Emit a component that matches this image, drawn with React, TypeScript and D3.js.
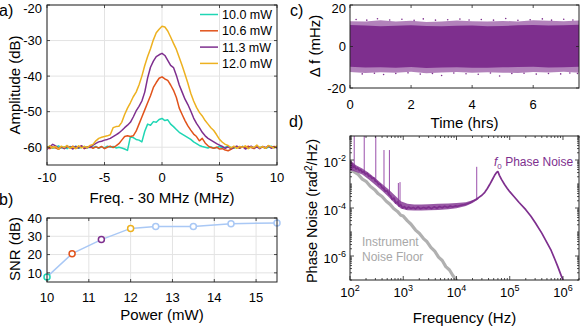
import React from 'react';
import * as d3 from 'd3';

const FONT = '"Liberation Sans", Arial, Helvetica, sans-serif';

// a) beat-note spectra, dB, sampled every 0.25 MHz from -10 to 10 MHz
const offsetMHz = d3.range(-10, 10.001, 0.25);
const amp10_0 = [
  -60.1, -59.7, -60.3, -60.0, -59.6, -60.2, -59.9, -60.4,
  -59.8, -60.1, -59.7, -60.3, -60.0, -59.8, -60.2, -59.9,
  -60.1, -59.8, -60.3, -59.9, -60.2, -59.7, -60.0, -59.8,
  -60.2, -60.0, -60.2, -60.5, -60.9, -57.1, -57.3, -57.8,
  -58.0, -58.5, -55.5, -53.5, -53.8, -52.8, -53.0, -52.2,
  -51.9, -52.5, -52.3, -53.5, -54.2, -55.0, -55.8, -56.3,
  -56.8, -57.3, -57.8, -58.5, -59.0, -59.5, -59.8, -60.0,
  -60.2, -59.9, -60.3, -60.1, -59.8, -60.2, -60.0, -59.7,
  -60.1, -60.3, -59.9, -60.2, -59.8, -60.0, -60.3, -59.9,
  -60.2, -59.8, -60.1, -59.9, -60.3, -60.0, -59.7, -60.1,
  -59.9,
];
const amp10_6 = [
  -59.8, -60.4, -59.9, -60.2, -60.6, -59.9, -60.3, -59.8,
  -60.2, -59.7, -60.3, -60.0, -59.6, -60.4, -60.1, -59.8,
  -60.3, -59.9, -60.2, -59.8, -60.4, -60.0, -59.7, -60.1,
  -59.6, -59.0, -58.0, -57.0, -56.8, -57.0, -56.8, -55.5,
  -53.5, -51.5, -49.5, -47.5, -45.5, -43.2, -41.8, -40.6,
  -40.2, -40.8, -41.2, -42.5, -44.0, -46.0, -49.0, -50.8,
  -52.5, -54.0, -55.2, -56.3, -57.0, -58.2, -57.5, -58.8,
  -59.6, -60.1, -60.3, -60.0, -60.5, -60.4, -60.8, -61.0,
  -60.6, -60.1, -59.8, -60.3, -59.9, -60.2, -59.7, -60.1,
  -60.4, -59.8, -60.2, -59.9, -60.3, -59.7, -60.1, -59.8,
  -60.0,
];
const amp11_3 = [
  -60.6, -59.8, -59.2, -59.6, -60.3, -59.9, -60.4, -59.7,
  -60.0, -60.5, -59.8, -60.2, -59.6, -60.3, -59.9, -60.1,
  -59.4, -58.9, -58.5, -58.3, -58.0, -57.8, -57.5, -57.0,
  -56.5, -56.0, -55.3, -54.5, -53.8, -53.0, -51.5, -49.8,
  -48.5, -47.0, -44.5, -40.5, -37.5, -35.8, -34.5, -34.0,
  -33.6, -34.2, -35.6, -37.0, -37.6, -39.8, -42.5, -44.5,
  -46.5, -48.0, -49.8, -51.8, -53.3, -54.5, -55.8, -56.8,
  -57.5, -58.0, -58.5, -59.0, -59.4, -59.8, -60.3, -59.9,
  -60.4, -60.0, -59.7, -60.2, -59.8, -60.5, -60.1, -59.7,
  -60.2, -59.9, -60.4, -59.8, -60.1, -59.6, -60.3, -59.9,
  -60.2,
];
const amp12_0 = [
  -60.3, -59.6, -60.2, -59.8, -60.5, -59.7, -60.1, -59.5,
  -60.3, -59.9, -60.4, -59.6, -60.2, -59.8, -60.1, -59.5,
  -59.2, -58.2, -57.5, -57.2, -57.0, -56.8, -56.5, -54.5,
  -54.2, -54.1, -53.0, -50.8, -49.0, -47.5, -45.8, -44.5,
  -42.5, -40.0, -37.0, -34.5, -32.3, -29.8, -27.8, -26.8,
  -26.0, -26.2, -27.3, -29.0, -30.8, -32.5, -34.8, -37.0,
  -39.5, -42.0, -44.8, -47.0, -48.8, -50.2, -51.2, -52.5,
  -53.5, -54.5, -55.3, -56.5, -57.8, -58.6, -59.2, -59.5,
  -60.2, -59.7, -60.3, -59.8, -60.0, -59.6, -60.4, -59.9,
  -60.1, -59.4, -60.2, -59.8, -60.3, -59.5, -59.9, -60.2,
  -59.6,
];
const spectra = [amp10_0, amp10_6, amp11_3, amp12_0];
const spectraLabels = ['10.0 mW', '10.6 mW', '11.3 mW', '12.0 mW'];
const spectraColors = ['#1fd6b4', '#e1531b', '#7e2f8e', '#edb120'];
const aXTicks = [-10, -5, 0, 5, 10];
const aYTicks = [-60, -50, -40, -30, -20];

// b) SNR vs pump power
const powerMW = [10, 10.6, 11.3, 12, 12.6, 13.5, 14.4, 15.5];
const snrDB = [7.8, 20.5, 28.2, 34.3, 35.3, 35.3, 36.9, 37.3];
const snrLine = '#a9c8f5';
const snrMarker = ['#1fd6b4', '#e1531b', '#7e2f8e', '#edb120', snrLine, snrLine, snrLine, snrLine];
const bXTicks = [10, 11, 12, 13, 14, 15];
const bYTicks = [10, 20, 30, 40];

// c) frequency deviation over time: dense band, ragged edges and stray points (mHz)
const cTime = [0, 0.5, 1, 1.5, 2, 2.5, 3, 3.5, 4, 4.5, 5, 5.5, 6, 6.5, 7, 7.5];
const cCoreHi = [10.4, 10.1, 9.8, 10.0, 10.2, 9.9, 9.7, 10.0, 10.1, 9.8, 9.9, 10.2, 10.4, 10.1, 10.3, 10.5];
const cCoreLo = [-9.8, -10.1, -10.0, -10.2, -9.9, -10.4, -10.1, -10.0, -10.2, -10.3, -10.0, -9.9, -9.7, -10.1, -10.0, -9.8];
const cEdgeHi = [12.2, 12.0, 12.6, 12.1, 12.4, 11.8, 12.0, 12.5, 12.2, 12.0, 12.3, 12.1, 12.6, 12.4, 12.2, 12.5];
const cEdgeLo = [-12.3, -12.8, -12.4, -12.6, -12.2, -12.9, -12.5, -12.3, -12.7, -12.4, -12.6, -12.8, -12.3, -12.5, -12.2, -12.6];
const cDotT = [0.2, 0.55, 0.9, 1.3, 1.7, 2.1, 2.4, 2.8, 3.2, 3.6, 3.9, 4.3, 4.7, 5.1, 5.5, 5.9, 6.3, 6.6, 7.0, 7.3,
  0.4, 0.8, 1.1, 1.5, 1.9, 2.3, 2.7, 3.0, 3.4, 3.8, 4.2, 4.6, 4.9, 5.3, 5.7, 6.1, 6.5, 6.9, 7.2, 7.45];
const cDotV = [13.0, 12.7, 13.4, 12.8, 13.1, 12.6, 13.3, 12.7, 12.9, 13.2, 12.8, 13.0, 12.7, 13.5, 12.6, 12.9, 13.3, 12.7, 13.1, 12.8,
  -13.2, -12.9, -13.5, -13.0, -12.7, -13.3, -13.0, -14.0, -12.8, -13.1, -13.4, -12.8, -14.2, -13.0, -12.9, -13.3, -13.0, -13.2, -12.8, -13.0];
const cXTicks = [0, 2, 4, 6];
const cYTicks = [-20, 0, 20];

// d) phase noise spectra (rad^2/Hz)
const pnFreq = [100, 105, 110, 115, 122, 130, 140, 150, 160, 170, 180, 195, 210, 225, 240, 260, 280, 300, 320, 345,
  370, 400, 430, 460, 500, 540, 580, 620, 670, 720, 780, 840, 900, 970, 1050, 1150, 1250, 1400, 1550, 1700,
  1900, 2100, 2400, 2700, 3000, 3400, 3800, 4300, 4800, 5400, 6000, 6800, 7600, 8500, 9500, 10500, 12000, 14000, 16000, 18000,
  20000, 23000, 26000, 30000, 34000, 38000, 42000, 47000, 52000, 57000, 60000, 64000, 70000, 80000, 90000, 1e5, 1.2e5, 1.5e5, 2e5, 2.5e5,
  3e5, 4e5, 5e5, 6e5, 7e5, 8e5, 9e5, 1e6, 1.05e6];
const pnValue = [9e-3, 4e-3, 7e-3, 5e-3, 5.5e-3, 4.2e-3, 4.6e-3, 3.6e-3, 3.9e-3, 3.1e-3, 3.3e-3, 2.6e-3, 2.8e-3, 2.1e-3, 2.2e-3, 1.7e-3, 1.8e-3, 1.3e-3, 1.25e-3, 9.5e-4,
  1.0e-3, 7.0e-4, 6.5e-4, 5.0e-4, 5.2e-4, 3.6e-4, 3.2e-4, 2.3e-4, 2.6e-4, 1.6e-4, 1.8e-4, 1.2e-4, 1.35e-4, 1.0e-4, 1.15e-4, 9.2e-5, 1.1e-4, 9.5e-5, 1.05e-4, 9.2e-5,
  1.1e-4, 9.3e-5, 1.05e-4, 9.6e-5, 1.1e-4, 9.4e-5, 1.12e-4, 9.8e-5, 1.15e-4, 1.02e-4, 1.18e-4, 1.05e-4, 1.2e-4, 1.1e-4, 1.22e-4, 1.18e-4, 1.3e-4, 1.38e-4, 1.5e-4, 1.65e-4,
  1.9e-4, 2.2e-4, 2.7e-4, 3.4e-4, 4.5e-4, 6.5e-4, 9.5e-4, 1.5e-3, 2.3e-3, 3.1e-3, 3.3e-3, 2.3e-3, 1.55e-3, 9.5e-4, 6.5e-4, 4.8e-4, 3.0e-4, 1.7e-4, 8.5e-5, 4.5e-5,
  2.5e-5, 9e-6, 3.6e-6, 1.7e-6, 7.5e-7, 3.6e-7, 1.8e-7, 1.0e-7, 7e-8];
// spread of the measured trace below 30 kHz
const pnFuzzFreq = [100, 130, 170, 220, 300, 400, 520, 700, 900, 1200, 1600, 2200, 3000, 4500, 7000, 10000, 15000, 20000, 26000];
const pnFuzzHi = [1.0e-2, 6.0e-3, 4.4e-3, 3.0e-3, 1.75e-3, 1.0e-3, 6.2e-4, 3.3e-4, 1.9e-4, 1.5e-4, 1.4e-4, 1.4e-4, 1.45e-4, 1.5e-4, 1.55e-4, 1.6e-4, 1.75e-4, 2.1e-4, 2.8e-4];
const pnFuzzLo = [3.8e-3, 3.2e-3, 2.5e-3, 1.6e-3, 9e-4, 5.2e-4, 3.0e-4, 1.55e-4, 9.5e-5, 8e-5, 7.8e-5, 7.8e-5, 8e-5, 8.3e-5, 8.8e-5, 9.8e-5, 1.2e-4, 1.6e-4, 2.4e-4];
const spurFreq = [120, 185, 305, 435, 550, 810, 870, 24000];
const spurTop = [0.2, 0.2, 0.2, 2.6e-2, 2.6e-2, 1.1e-3, 1.2e-3, 5.2e-3];
const spurBase = [5e-3, 3e-3, 1.3e-3, 5.5e-4, 3.6e-4, 1.3e-4, 1.3e-4, 2.2e-4];
const floorFreq = [100, 110, 120, 140, 170, 200, 240, 290, 340, 400, 480, 560, 660, 780, 900, 1000, 1200, 1400, 1700, 2000,
  2400, 2800, 3300, 3900, 4600, 5400, 6300, 7400, 8600, 10000, 11000];
const floorValue = [5e-3, 3.6e-3, 3.2e-3, 2.6e-3, 1.6e-3, 1.3e-3, 8e-4, 5.8e-4, 3.9e-4, 3.0e-4, 1.9e-4, 1.45e-4, 9.5e-5, 7.2e-5, 5.0e-5, 4.6e-5, 2.9e-5, 2.1e-5, 1.2e-5, 8.8e-6,
  5.3e-6, 3.9e-6, 2.3e-6, 1.6e-6, 9e-7, 6.5e-7, 3.6e-7, 2.6e-7, 1.5e-7, 1.0e-7, 7e-8];
const dXTicks = [1e2, 1e3, 1e4, 1e5, 1e6];
const dYTicks = [1e-6, 1e-4, 1e-2];

const purple = '#7e2f8e';

type Box = { l: number; r: number; t: number; b: number };

function Grid({ box, xs, ys }: { box: Box; xs: number[]; ys: number[] }) {
  return (
    <g stroke="#e3e3e3">
      {xs.map((x, i) => <line key={'gx' + i} x1={x} x2={x} y1={box.t} y2={box.b} />)}
      {ys.map((y, i) => <line key={'gy' + i} x1={box.l} x2={box.r} y1={y} y2={y} />)}
    </g>
  );
}

function Ticks({ box, xs, ys, len = 3 }: { box: Box; xs: number[]; ys: number[]; len?: number }) {
  return (
    <g stroke="#222" strokeWidth={0.8}>
      {xs.map((x, i) => (
        <g key={'tx' + i}>
          <line x1={x} x2={x} y1={box.b} y2={box.b - len} />
          <line x1={x} x2={x} y1={box.t} y2={box.t + len} />
        </g>
      ))}
      {ys.map((y, i) => (
        <g key={'ty' + i}>
          <line x1={box.l} x2={box.l + len} y1={y} y2={y} />
          <line x1={box.r} x2={box.r - len} y1={y} y2={y} />
        </g>
      ))}
    </g>
  );
}

function Border({ box }: { box: Box }) {
  return <rect x={box.l} y={box.t} width={box.r - box.l} height={box.b - box.t} fill="none" stroke="#222" strokeWidth={1} />;
}

// keep the topmost tick labels inside the picture
const labelY = (y: number) => Math.max(y, 8);

export default function App() {
  const A: Box = { l: 47, r: 277, t: 5, b: 165 };
  const B: Box = { l: 47, r: 277, t: 218, b: 282 };
  const C: Box = { l: 350, r: 579, t: 5, b: 88 };
  const D: Box = { l: 350, r: 579, t: 136, b: 280 };

  const ax = d3.scaleLinear().domain([-10, 10]).range([A.l, A.r]);
  const ay = d3.scaleLinear().domain([-65, -20]).range([A.b, A.t]);
  const bx = d3.scaleLinear().domain([10, 15.5]).range([B.l, B.r]);
  const by = d3.scaleLinear().domain([5, 40]).range([B.b, B.t]);
  const cx = d3.scaleLinear().domain([0, 7.5]).range([C.l, C.r]);
  const cy = d3.scaleLinear().domain([-20, 20]).range([C.b, C.t]);
  const dx = d3.scaleLog().domain([100, 2e6]).range([D.l, D.r]);
  const dy = d3.scaleLog().domain([1e-7, 1e-1]).range([D.b, D.t]);

  const specLine = (vals: number[]) =>
    d3.line<number>().x((_, i) => ax(offsetMHz[i])).y((v) => ay(v))(vals) || '';
  const snrPath = d3.line<number>().x((_, i) => bx(powerMW[i])).y((v) => by(v))(snrDB) || '';
  const band = (hi: number[], lo: number[]) =>
    d3.area<number>().x((t) => cx(t)).y0((_, i) => cy(lo[i])).y1((_, i) => cy(hi[i]))(cTime) || '';
  const pnPath = d3.line<number>().x((f) => dx(f)).y((_, i) => dy(pnValue[i]))(pnFreq) || '';
  const pnFuzz = d3.area<number>().x((f) => dx(f)).y0((_, i) => dy(pnFuzzLo[i])).y1((_, i) => dy(pnFuzzHi[i]))(pnFuzzFreq) || '';
  const floorPath = d3.line<number>().x((f) => dx(f)).y((_, i) => dy(floorValue[i]))(floorFreq) || '';

  const tickFont = 13;
  const labFont = 15;

  return (
    <svg width={581} height={326} style={{ position: 'absolute', left: 0, top: 0, background: '#fff' }} fontFamily={FONT}>
      <defs>
        <clipPath id="clipA"><rect x={A.l} y={A.t} width={A.r - A.l} height={A.b - A.t} /></clipPath>
        <clipPath id="clipC"><rect x={C.l} y={C.t} width={C.r - C.l} height={C.b - C.t} /></clipPath>
        <clipPath id="clipD"><rect x={D.l} y={D.t} width={D.r - D.l} height={D.b - D.t} /></clipPath>
      </defs>

      {/* a) spectra */}
      <Grid box={A} xs={aXTicks.map(ax)} ys={aYTicks.map(ay)} />
      <g clipPath="url(#clipA)">
        {spectra.map((s, k) => (
          <path key={k} d={specLine(s)} fill="none" stroke={spectraColors[k]} strokeWidth={1.5} strokeLinejoin="round" />
        ))}
      </g>
      {spectraLabels.map((lab, k) => {
        const yy = 14.5 + k * 16.3;
        return (
          <g key={lab}>
            <line x1={200} x2={218} y1={yy} y2={yy} stroke={spectraColors[k]} strokeWidth={1.5} />
            <text x={222} y={yy} dy="0.36em" fontSize={12.5}>{lab}</text>
          </g>
        );
      })}
      <Ticks box={A} xs={aXTicks.map(ax)} ys={aYTicks.map(ay)} />
      <Border box={A} />
      {aXTicks.map((t) => (
        <text key={t} x={ax(t)} y={181.5} textAnchor="middle" fontSize={tickFont}>{t}</text>
      ))}
      {aYTicks.map((t) => (
        <text key={t} x={42} y={labelY(ay(t))} dy="0.36em" textAnchor="end" fontSize={tickFont}>{t}</text>
      ))}
      <text x={162} y={203} textAnchor="middle" fontSize={labFont}>Freq. - 30 MHz (MHz)</text>
      <text transform="translate(15,85) rotate(-90)" textAnchor="middle" dy="0.36em" fontSize={labFont}>Amplitude (dB)</text>
      <text x={-1} y={16} fontSize={16}>a)</text>

      {/* b) SNR */}
      <Grid box={B} xs={bXTicks.map(bx)} ys={bYTicks.map(by)} />
      <path d={snrPath} fill="none" stroke={snrLine} strokeWidth={1.5} />
      {powerMW.map((p, i) => (
        <circle key={p} cx={bx(p)} cy={by(snrDB[i])} r={3} fill="#fff" stroke={snrMarker[i]} strokeWidth={1.5} />
      ))}
      <Ticks box={B} xs={bXTicks.map(bx)} ys={bYTicks.map(by)} />
      <Border box={B} />
      {bXTicks.map((t) => (
        <text key={t} x={bx(t)} y={301.5} textAnchor="middle" fontSize={tickFont}>{t}</text>
      ))}
      {bYTicks.map((t) => (
        <text key={t} x={42} y={by(t)} dy="0.36em" textAnchor="end" fontSize={tickFont}>{t}</text>
      ))}
      <text x={162} y={320} textAnchor="middle" fontSize={labFont}>Power (mW)</text>
      <text transform="translate(15,249) rotate(-90)" textAnchor="middle" dy="0.36em" fontSize={labFont}>SNR (dB)</text>
      <text x={-1} y={205} fontSize={16}>b)</text>

      {/* c) frequency deviation */}
      <g clipPath="url(#clipC)">
        <path d={band(cEdgeHi, cEdgeLo)} fill={purple} fillOpacity={0.6} />
        <path d={band(cCoreHi, cCoreLo)} fill={purple} />
        {cDotT.map((t, i) => (
          <circle key={i} cx={cx(t)} cy={cy(cDotV[i])} r={0.8} fill={purple} />
        ))}
      </g>
      <Ticks box={C} xs={cXTicks.map(cx)} ys={cYTicks.map(cy)} />
      <Border box={C} />
      {cXTicks.map((t) => (
        <text key={t} x={cx(t)} y={108.5} textAnchor="middle" fontSize={tickFont}>{t}</text>
      ))}
      {cYTicks.map((t) => (
        <text key={t} x={346} y={labelY(cy(t))} dy="0.36em" textAnchor="end" fontSize={tickFont}>{t}</text>
      ))}
      <text x={(C.l + C.r) / 2} y={128} textAnchor="middle" fontSize={labFont}>Time (hrs)</text>
      <text transform="translate(315,46) rotate(-90)" textAnchor="middle" dy="0.36em" fontSize={labFont}>Δ f (mHz)</text>
      <text x={290} y={16} fontSize={16}>c)</text>

      {/* d) phase noise */}
      <g clipPath="url(#clipD)">
        <path d={floorPath} fill="none" stroke="#b0b0b0" strokeWidth={3.2} strokeLinejoin="round" />
        {spurFreq.map((f, i) => (
          <line key={f} x1={dx(f)} x2={dx(f)} y1={dy(spurBase[i])} y2={dy(spurTop[i])} stroke="#9a4fab" strokeWidth={1} />
        ))}
        <path d={pnFuzz} fill={purple} fillOpacity={0.8} />
        <path d={pnPath} fill="none" stroke={purple} strokeWidth={1.7} strokeLinejoin="round" />
      </g>
      <g stroke="#222" strokeWidth={0.8}>
        {dx.ticks().map((f, i) => {
          const len = dXTicks.includes(f) ? 4 : 2;
          return (
            <g key={'dx' + i}>
              <line x1={dx(f)} x2={dx(f)} y1={D.b} y2={D.b - len} />
              <line x1={dx(f)} x2={dx(f)} y1={D.t} y2={D.t + len} />
            </g>
          );
        })}
        {dy.ticks().map((v, i) => {
          const len = dYTicks.some((m) => Math.abs(m - v) / m < 1e-6) ? 4 : 2;
          return (
            <g key={'dy' + i}>
              <line x1={D.l} x2={D.l + len} y1={dy(v)} y2={dy(v)} />
              <line x1={D.r} x2={D.r - len} y1={dy(v)} y2={dy(v)} />
            </g>
          );
        })}
      </g>
      <Border box={D} />
      {dXTicks.map((f) => (
        <text key={f} x={dx(f)} y={297} textAnchor="middle" fontSize={tickFont}>
          10<tspan dy={-6} fontSize={9}>{Math.round(Math.log10(f))}</tspan>
        </text>
      ))}
      {dYTicks.map((v) => (
        <text key={v} x={346} y={dy(v) + 6.5} textAnchor="end" fontSize={tickFont}>
          10<tspan dy={-6} fontSize={9}>{Math.round(Math.log10(v))}</tspan>
        </text>
      ))}
      <text x={(D.l + D.r) / 2} y={323} textAnchor="middle" fontSize={labFont}>Frequency (Hz)</text>
      <text transform="translate(317,211) rotate(-90)" textAnchor="middle" fontSize={14.5}>
        Phase Noise (rad<tspan dy={-5} fontSize={10}>2</tspan><tspan dy={5}>/Hz)</tspan>
      </text>
      <text x={494} y={166} fontSize={12} fill={purple}>
        <tspan fontStyle="italic">f</tspan><tspan dy={3} fontSize={8}>0</tspan><tspan dy={-3}> Phase Noise</tspan>
      </text>
      <text x={362} y={246} fontSize={12} fill="#a8a8a8">Instrument</text>
      <text x={362} y={261} fontSize={12} fill="#a8a8a8">Noise Floor</text>
      <text x={289} y={127} fontSize={16}>d)</text>
    </svg>
  );
}
